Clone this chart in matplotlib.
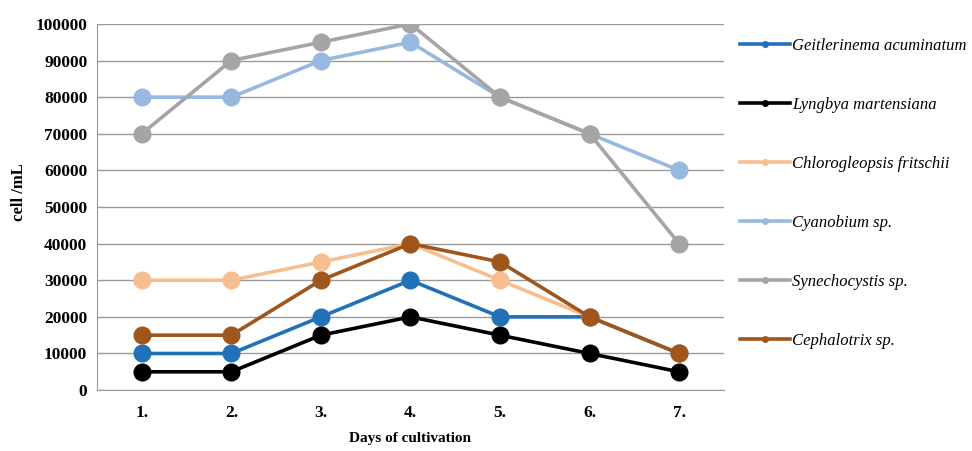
import matplotlib
matplotlib.use('Agg')
import matplotlib.pyplot as plt

days = ['1.', '2.', '3.', '4.', '5.', '6.', '7.']
names = ['Geitlerinema acuminatum', 'Lyngbya martensiana', 'Chlorogleopsis fritschii',
         'Cyanobium sp.', 'Synechocystis sp.', 'Cephalotrix sp.']
geitlerinema = [10000, 10000, 20000, 30000, 20000, 20000, 10000]
lyngbya = [5000, 5000, 15000, 20000, 15000, 10000, 5000]
chlorogleopsis = [30000, 30000, 35000, 40000, 30000, 20000, 10000]
cyanobium = [80000, 80000, 90000, 95000, 80000, 70000, 60000]
synechocystis = [70000, 90000, 95000, 100000, 80000, 70000, 40000]
cephalotrix = [15000, 15000, 30000, 40000, 35000, 20000, 10000]
colors = ['#2271b8', '#000000', '#f7bf90', '#97b9e0', '#a5a5a5', '#9e561c']

plt.rcParams['font.family'] = ['Liberation Serif', 'DejaVu Serif']

fig = plt.figure(figsize=(9.72, 4.51), dpi=100)
ax = fig.add_axes([0.0998, 0.135, 0.645, 0.812])

series = [geitlerinema, lyngbya, chlorogleopsis, cyanobium, synechocystis, cephalotrix]
x = list(range(1, len(days) + 1))
handles = []
for vals, c, n in zip(series, colors, names):
    ax.plot(x, vals, color=c, lw=2.6, marker='o', ms=12, zorder=3)
    # legend handle with small marker
    h, = ax.plot([], [], color=c, lw=2.6, marker='o', ms=4, label=n)
    handles.append(h)

ax.set_xlim(0.5, 7.5)
ax.set_ylim(0, 100000)
ax.set_yticks(range(0, 100001, 10000))
ax.set_xticks(x)
ax.set_xticklabels(days)
ax.grid(axis='y', color='#9a9a9a', lw=1.0)
ax.set_axisbelow(True)
for s in ['top', 'right']:
    ax.spines[s].set_visible(False)
for s in ['left', 'bottom']:
    ax.spines[s].set_color('#9a9a9a')
ax.tick_params(length=0, labelsize=12.5)
ax.tick_params(axis='y', pad=7)
ax.tick_params(axis='x', pad=11)
for lab in ax.get_xticklabels() + ax.get_yticklabels():
    lab.set_fontweight('bold')
ax.set_ylabel('cell /mL', fontsize=12, fontweight='bold')
ax.yaxis.set_label_coords(-0.112, 0.54)
ax.set_xlabel('Days of cultivation', fontsize=11, fontweight='bold')
ax.xaxis.set_label_coords(0.5, -0.115)

leg = fig.legend(handles=handles, loc='upper left', bbox_to_anchor=(0.746, 0.95),
                 frameon=False, labelspacing=2.58, handlelength=3.0, handletextpad=0.1,
                 prop={'style': 'italic', 'size': 12})

fig.savefig('out.png', dpi=100)
